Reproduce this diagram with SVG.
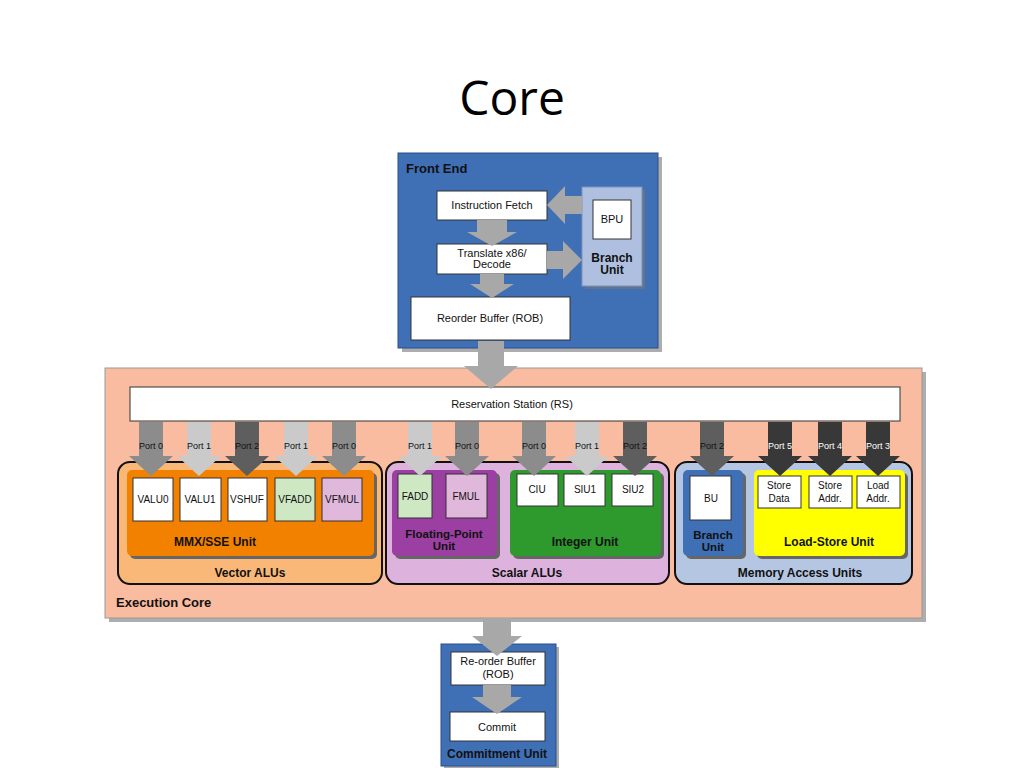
<svg xmlns="http://www.w3.org/2000/svg" width="1024" height="768" viewBox="0 0 1024 768">
<style>
text{font-family:"Liberation Sans",Arial,sans-serif;fill:#111}
.t{font-size:11px;text-anchor:middle}
.u{font-size:10px;text-anchor:middle}
.b{font-weight:bold;text-anchor:middle;font-size:12px}
.b2{font-weight:bold;text-anchor:middle;font-size:11.5px}
.p{font-size:9px;text-anchor:middle}
.w{fill:#fff;stroke:#333;stroke-width:1}
.sh{fill:#777;opacity:.6}
.blue{fill:#3f6fb5;stroke:#2a4f8a;stroke-width:1}
.grp{stroke:#111;stroke-width:2}
.a0{fill:#8c8c8c}.a1{fill:#cacaca}.a2{fill:#5e5e5e}.a3{fill:#383838}.ag{fill:#a8a8a8}
</style>
<defs>
<path id="dn" d="M-12,0H12V34H22L0,54L-22,34H-12Z"/>
</defs>
<text x="512" y="115" style="font-family:'Open Sans','Liberation Sans',sans-serif;font-size:48px;text-anchor:middle;fill:#000">Core</text>

<g id="front-end">
<rect x="402" y="157" width="260" height="195" class="sh"/>
<rect x="398" y="153" width="260" height="195" class="blue"/>
<text x="406" y="173" style="font-weight:bold;font-size:13px">Front End</text>
</g>
<g id="instruction-fetch"><rect x="437" y="191" width="110" height="29" class="w"/><text x="492" y="209" class="t">Instruction Fetch</text></g>
<g id="translate"><rect x="437" y="244" width="110" height="30" class="w"/><text x="492" y="257" class="t">Translate x86/</text><text x="492" y="268" class="t">Decode</text></g>
<g id="rob-front"><rect x="411" y="297" width="159" height="43" class="w"/><text x="490" y="322" class="t">Reorder Buffer (ROB)</text></g>
<g id="branch-unit-front">
<rect x="585" y="190" width="60" height="99" class="sh"/>
<rect x="582" y="187" width="60" height="99" fill="#aebfe0" stroke="#7f93b8"/>
<rect x="593" y="200" width="38" height="39" class="w"/><text x="612" y="223" class="t">BPU</text>
<text x="612" y="262" class="b">Branch</text><text x="612" y="274" class="b">Unit</text>
</g>

<g id="execution-core">
<rect x="109" y="372" width="817" height="250" class="sh"/>
<rect x="105" y="368" width="817" height="250" fill="#f9bca0" stroke="#999"/>
<text x="116" y="607" style="font-weight:bold;font-size:13px">Execution Core</text>
</g>
<g id="reservation-station"><rect x="130" y="387" width="770" height="34" class="w"/><text x="512" y="408" class="t">Reservation Station (RS)</text></g>

<g id="vector-alus">
<rect x="118" y="462" width="264" height="122" rx="12" fill="#f9b878" class="grp"/>
<rect x="130" y="473" width="247" height="86" rx="5" fill="#666"/>
<rect x="127" y="470" width="247" height="86" rx="5" fill="#f38100"/>
<text x="215" y="546" class="b">MMX/SSE Unit</text>
<text x="250" y="577" class="b">Vector ALUs</text>
<rect x="133" y="478" width="40" height="43" class="w"/><text x="153" y="503" class="u">VALU0</text>
<rect x="180" y="478" width="41" height="43" class="w"/><text x="200" y="503" class="u">VALU1</text>
<rect x="228" y="478" width="39" height="43" class="w"/><text x="247" y="503" class="u">VSHUF</text>
<rect x="275" y="478" width="40" height="43" fill="#cfe8c4" stroke="#333"/><text x="295" y="503" class="u">VFADD</text>
<rect x="322" y="478" width="40" height="43" fill="#e0b8dc" stroke="#333"/><text x="342" y="503" class="u">VFMUL</text>
</g>

<g id="scalar-alus">
<rect x="386" y="462" width="283" height="122" rx="12" fill="#ddb2dc" class="grp"/>
<rect x="395" y="473" width="105" height="86" rx="5" fill="#666"/>
<rect x="392" y="470" width="105" height="86" rx="5" fill="#9b3fa3"/>
<rect x="398" y="474" width="34" height="44" fill="#cfe8c4" stroke="#333"/><text x="415" y="500" class="u">FADD</text>
<rect x="446" y="474" width="41" height="44" fill="#e0b8dc" stroke="#333"/><text x="466" y="500" class="u">FMUL</text>
<text x="444" y="538" class="b2">Floating-Point</text><text x="444" y="550" class="b2">Unit</text>
<rect x="513" y="473" width="151" height="86" rx="5" fill="#666"/>
<rect x="510" y="470" width="151" height="86" rx="5" fill="#2e9a2e"/>
<rect x="517" y="474" width="41" height="32" class="w"/><text x="537" y="493" class="u">CIU</text>
<rect x="564" y="474" width="41" height="32" class="w"/><text x="585" y="493" class="u">SIU1</text>
<rect x="612" y="474" width="41" height="32" class="w"/><text x="633" y="493" class="u">SIU2</text>
<text x="585" y="546" class="b">Integer Unit</text>
<text x="527" y="577" class="b">Scalar ALUs</text>
</g>

<g id="memory-access-units">
<rect x="675" y="462" width="237" height="122" rx="12" fill="#b4c6e2" class="grp"/>
<rect x="686" y="473" width="60" height="86" rx="5" fill="#666"/>
<rect x="683" y="470" width="60" height="86" rx="5" fill="#3f6fb5"/>
<rect x="690" y="476" width="41" height="44" class="w"/><text x="711" y="502" class="u">BU</text>
<text x="713" y="539" class="b2">Branch</text><text x="713" y="551" class="b2">Unit</text>
<rect x="757" y="473" width="151" height="86" rx="5" fill="#666"/>
<rect x="754" y="470" width="151" height="86" rx="5" fill="#ffff00"/>
<rect x="758" y="476" width="43" height="32" class="w"/><text x="779" y="489" class="u">Store</text><text x="779" y="502" class="u">Data</text>
<rect x="809" y="476" width="43" height="32" class="w"/><text x="830" y="489" class="u">Store</text><text x="830" y="502" class="u">Addr.</text>
<rect x="857" y="476" width="43" height="32" class="w"/><text x="878" y="489" class="u">Load</text><text x="878" y="502" class="u">Addr.</text>
<text x="829" y="546" class="b">Load-Store Unit</text>
<text x="800" y="577" class="b">Memory Access Units</text>
</g>

<g id="commitment-unit">
<rect x="444" y="647" width="115" height="122" class="sh"/>
<rect x="441" y="644" width="115" height="122" class="blue"/>
<rect x="451" y="652" width="94" height="33" class="w"/><text x="498" y="665" class="t">Re-order Buffer</text><text x="498" y="678" class="t">(ROB)</text>
<rect x="450" y="712" width="95" height="29" class="w"/><text x="497" y="731" class="t">Commit</text>
<text x="497" y="758" class="b">Commitment Unit</text>
</g>

<g id="connectors">
<path class="ag" d="M477,220H507V232H517L492,246L467,232H477Z"/>
<path class="ag" d="M582,196V214H565V224L547,205L565,186V196Z"/>
<path class="ag" d="M547,251V269H563V279L582,260L563,241V251Z"/>
<path class="ag" d="M480,274H504V284H514L492,298L470,284H480Z"/>
<path class="ag" d="M478,341H504V366H518L491,389L464,366H478Z"/>
<path class="ag" d="M483,618H511V636H522L497,656L472,636H483Z"/>
<path class="ag" d="M483,685H511V697H522L497,714L472,697H483Z"/>
<use href="#dn" x="151" y="422" class="a0"/>
<use href="#dn" x="199" y="422" class="a1"/>
<use href="#dn" x="247" y="422" class="a2"/>
<use href="#dn" x="296" y="422" class="a1"/>
<use href="#dn" x="344" y="422" class="a0"/>
<use href="#dn" x="420" y="422" class="a1"/>
<use href="#dn" x="467" y="422" class="a0"/>
<use href="#dn" x="534" y="422" class="a0"/>
<use href="#dn" x="587" y="422" class="a1"/>
<use href="#dn" x="635" y="422" class="a2"/>
<use href="#dn" x="712" y="422" class="a2"/>
<use href="#dn" x="780" y="422" class="a3"/>
<use href="#dn" x="830" y="422" class="a3"/>
<use href="#dn" x="878" y="422" class="a3"/>
<text x="151" y="449" class="p">Port 0</text>
<text x="199" y="449" class="p">Port 1</text>
<text x="247" y="449" class="p">Port 2</text>
<text x="296" y="449" class="p">Port 1</text>
<text x="344" y="449" class="p">Port 0</text>
<text x="420" y="449" class="p">Port 1</text>
<text x="467" y="449" class="p">Port 0</text>
<text x="534" y="449" class="p">Port 0</text>
<text x="587" y="449" class="p">Port 1</text>
<text x="635" y="449" class="p">Port 2</text>
<text x="712" y="449" class="p">Port 2</text>
<text x="780" y="449" class="p" style="fill:#fff">Port 5</text>
<text x="830" y="449" class="p" style="fill:#fff">Port 4</text>
<text x="878" y="449" class="p" style="fill:#fff">Port 3</text>
</g>
</svg>
